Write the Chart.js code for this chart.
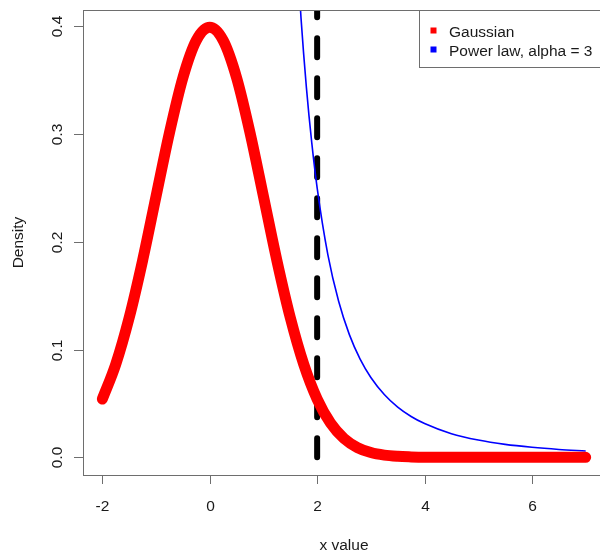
<!DOCTYPE html>
<html>
<head>
<meta charset="utf-8">
<title>Gaussian vs power law density</title>
<script src="https://cdn.jsdelivr.net/npm/chart.js@4/dist/chart.umd.min.js"></script>
<style>
  html, body { margin: 0; padding: 0; background: #fff; overflow: hidden; width: 600px; height: 552px; }
  canvas { display: block; }
</style>
</head>
<body>
<canvas id="density-chart" width="620" height="552"></canvas>
<script>
// Standard normal density, sampled every 0.25
const gaussX = [-2, -1.75, -1.5, -1.25, -1, -0.75, -0.5, -0.25, 0, 0.25, 0.5, 0.75, 1, 1.25, 1.5, 1.75,
  2, 2.25, 2.5, 2.75, 3, 3.25, 3.5, 3.75, 4, 4.5, 5, 5.5, 6, 6.5, 7];
const gaussY = [0.054, 0.0863, 0.1295, 0.1826, 0.242, 0.3011, 0.3521, 0.3867, 0.3989, 0.3867, 0.3521, 0.3011,
  0.242, 0.1826, 0.1295, 0.0863, 0.054, 0.0317, 0.0175, 0.0091, 0.0044, 0.002, 0.0009, 0.0004, 0.0001,
  0, 0, 0, 0, 0, 0];

// Power law tail (alpha = 3), runs off the top of the plot below x ~ 1.7
const powerX = [1.5, 1.6, 1.7, 1.8, 1.9, 2, 2.2, 2.4, 2.6, 2.8, 3, 3.25, 3.5, 3.75, 4, 4.5, 5, 5.5, 6, 6.5, 7];
const powerY = [0.5926, 0.4883, 0.4071, 0.3429, 0.2916, 0.25, 0.1878, 0.1447, 0.1138, 0.0911, 0.0741,
  0.0583, 0.0466, 0.0379, 0.0313, 0.0219, 0.016, 0.012, 0.0093, 0.0073, 0.0058];

// Cutoff marker
const cutoffX = 2;
const cutoffY = [0, 0.45];

const xTicks = [-2, 0, 2, 4, 6];
const yTicks = [0, 0.1, 0.2, 0.3, 0.4];
const xTitle = "x value";
const yTitle = "Density";

const FONT = "15.5px 'Liberation Sans', Arial, sans-serif";
const INK = "#1a1a1a";
const FRAME = "#6e6e6e";

const toPoints = (xs, ys) => xs.map((x, i) => ({ x, y: ys[i] }));

// Base-graphics style frame: box, outward ticks, rotated y labels, legend
const basePlotFrame = {
  id: "basePlotFrame",
  afterDatasetsDraw(chart) {
    const { ctx, chartArea: a, scales } = chart;
    const xs = scales.x, ys = scales.y;
    ctx.save();

    ctx.strokeStyle = FRAME;
    ctx.lineWidth = 1;
    ctx.strokeRect(a.left + 0.5, a.top + 0.5, a.right - a.left, a.bottom - a.top);

    ctx.fillStyle = INK;
    ctx.font = FONT;

    // x axis
    ctx.textAlign = "center";
    ctx.textBaseline = "alphabetic";
    xTicks.forEach(v => {
      const px = Math.round(xs.getPixelForValue(v)) + 0.5;
      ctx.beginPath();
      ctx.moveTo(px, a.bottom);
      ctx.lineTo(px, a.bottom + 9);
      ctx.stroke();
      ctx.fillText(String(v), px, a.bottom + 36);
    });

    // y axis, labels read bottom to top
    yTicks.forEach(v => {
      const py = Math.round(ys.getPixelForValue(v)) + 0.5;
      ctx.beginPath();
      ctx.moveTo(a.left - 9, py);
      ctx.lineTo(a.left, py);
      ctx.stroke();
      ctx.save();
      ctx.translate(a.left - 21.5, py);
      ctx.rotate(-Math.PI / 2);
      ctx.fillText(v.toFixed(1), 0, 0);
      ctx.restore();
    });

    // axis titles
    ctx.fillText(xTitle, (a.left + a.right) / 2, 549.5);
    ctx.save();
    ctx.translate(23.3, (a.top + a.bottom) / 2);
    ctx.rotate(-Math.PI / 2);
    ctx.fillText(yTitle, 0, 0);
    ctx.restore();

    // legend in the top right corner
    const entries = chart.data.datasets.filter(d => d.inLegend);
    const lx = 419.5, ly = a.top + 0.5, lh = 57;
    ctx.fillStyle = "#fff";
    ctx.fillRect(lx, ly, a.right - lx, lh);
    ctx.strokeStyle = FRAME;
    ctx.strokeRect(lx, ly, a.right - lx, lh);
    ctx.textAlign = "left";
    entries.forEach((d, i) => {
      const cy = ly + 20 + i * 19;
      ctx.fillStyle = d.borderColor;
      ctx.fillRect(430.5, cy - 3, 6, 6);
      ctx.fillStyle = INK;
      ctx.fillText(d.label, 449, cy + 6);
    });

    ctx.restore();
  }
};

const ctx = document.getElementById("density-chart").getContext("2d");
const chart = new Chart(ctx, {
  type: "scatter",
  data: {
    datasets: [
      {
        label: "Gaussian",
        inLegend: true,
        data: toPoints(gaussX, gaussY),
        showLine: true,
        borderColor: "#ff0000",
        borderWidth: 11,
        borderCapStyle: "round",
        borderJoinStyle: "round",
        cubicInterpolationMode: "monotone",
        pointRadius: 0,
      },
      {
        label: "Power law, alpha = 3",
        inLegend: true,
        data: toPoints(powerX, powerY),
        showLine: true,
        borderColor: "#0000ff",
        borderWidth: 1.6,
        cubicInterpolationMode: "monotone",
        pointRadius: 0,
      },
      {
        label: "cutoff",
        data: cutoffY.map(y => ({ x: cutoffX, y })),
        showLine: true,
        borderColor: "#000000",
        borderWidth: 6,
        borderDash: [19, 21],
        borderCapStyle: "round",
        pointRadius: 0,
      },
    ],
  },
  options: {
    responsive: false,
    animation: false,
    devicePixelRatio: 1,
    layout: { padding: { left: 83, top: 10, right: 15, bottom: 77 } },
    plugins: {
      legend: { display: false },
      tooltip: { enabled: false },
    },
    scales: {
      x: { type: "linear", display: false, min: -2.36, max: 7.36 },
      y: { type: "linear", display: false, min: -0.0164, max: 0.4149 },
    },
  },
  plugins: [basePlotFrame],
});
</script>
</body>
</html>
